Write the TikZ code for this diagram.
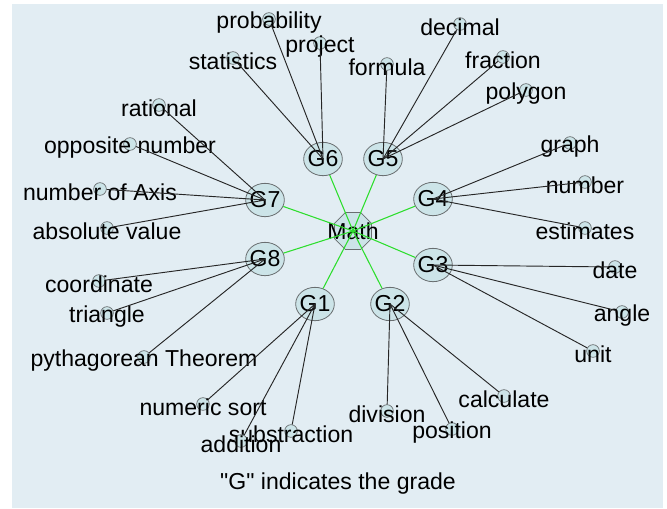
\documentclass[tikz,border=0pt]{standalone}
\usepackage{fontspec}
\setmainfont{Liberation Sans}[Ligatures=TeXOff]
\usetikzlibrary{shapes.geometric}
\definecolor{paneblue}{RGB}{226,237,243}
\definecolor{bubble}{RGB}{204,228,232}
\definecolor{rim}{RGB}{105,110,112}
\definecolor{spokegreen}{RGB}{45,222,45}
\tikzset{
	hub/.style={regular polygon, regular polygon sides=8, draw=rim, fill=bubble, minimum size=30pt, inner sep=0pt, line width=0.6pt},
	grade/.style={ellipse, draw=rim, fill=bubble, minimum width=29pt, minimum height=25pt, inner sep=0pt, line width=0.6pt},
	leaf/.style={circle, draw=rim, fill=bubble, minimum size=9.5pt, inner sep=0pt, line width=0.5pt},
	lab/.style={yshift=-2.5pt},
	spoke/.style={spokegreen, line width=0.8pt},
	twig/.style={black!85, line width=0.7pt}
}

\begin{document}
\begin{tikzpicture}[x=0.75pt, y=-0.75pt, font=\fontsize{17.3}{20}\selectfont]
			%%%%% START %%%%%
			\useasboundingbox (0, 0) rectangle (667, 508);
			\fill[white] (0, 0) rectangle (667, 508);
			\fill[paneblue] (12, 4) rectangle (663, 508);
			
			\node[hub, label=center:Math] (math) at (353, 231) {};
			
			\node[grade, label=center:G1] (g1) at (315, 304) {};
			\node[grade, label=center:G2] (g2) at (390, 304) {};
			\node[grade, label=center:G3] (g3) at (433, 265) {};
			\node[grade, label=center:G4] (g4) at (433, 199) {};
			\node[grade, label=center:G5] (g5) at (383, 159) {};
			\node[grade, label=center:G6] (g6) at (323, 159) {};
			\node[grade, label=center:G7] (g7) at (265, 200) {};
			\node[grade, label=center:G8] (g8) at (265, 259) {};
			
			% grade 1
			\node[leaf, label={[lab]center:numeric sort}] (sort) at (203, 404) {};
			\node[leaf, label={[lab]center:substraction}] (subs) at (291, 431) {};
			\node[leaf, label={[lab]center:addition}] (addi) at (241, 441) {};
			
			% grade 2
			\node[leaf, label={[lab]center:division}] (divi) at (387, 411) {};
			\node[leaf, label={[lab]center:position}] (posi) at (452, 429) {};
			\node[leaf, label={[lab]center:calculate}] (calc) at (504, 396) {};
			
			% grade 3
			\node[leaf, label={[lab]center:date}] (date) at (615, 267) {};
			\node[leaf, label={[lab]center:angle}] (angl) at (622, 312) {};
			\node[leaf, label={[lab]center:unit}] (unit) at (593, 351) {};
			
			% grade 4
			\node[leaf, label={[lab]center:graph}] (grap) at (570, 143) {};
			\node[leaf, label={[lab]center:number}] (numb) at (585, 182) {};
			\node[leaf, label={[lab]center:estimates}] (esti) at (585, 228) {};
			
			% grade 5
			\node[leaf, label={[lab]center:formula}] (form) at (387, 64) {};
			\node[leaf, label={[lab]center:decimal}] (deci) at (460, 24) {};
			\node[leaf, label={[lab]center:fraction}] (frac) at (503, 57) {};
			\node[leaf, label={[lab]center:polygon}] (poly) at (526, 90) {};
			
			% grade 6
			\node[leaf, label={[lab]center:probability}] (prob) at (269, 19) {};
			\node[leaf, label={[lab]center:project}] (proj) at (320, 43) {};
			\node[leaf, label={[lab]center:statistics}] (stat) at (233, 58) {};
			
			% grade 7
			\node[leaf, label={[lab]center:rational}] (rati) at (159, 105) {};
			\node[leaf, label={[lab]center:opposite number}] (oppo) at (130, 144) {};
			\node[leaf, label={[lab]center:number of Axis}] (axis) at (100, 189) {};
			\node[leaf, label={[lab]center:absolute value}] (abso) at (107, 228) {};
			
			% grade 8
			\node[leaf, label={[lab]center:coordinate}] (coor) at (99, 281) {};
			\node[leaf, label={[lab]center:triangle}] (tria) at (107, 313) {};
			\node[leaf, label={[lab]center:pythagorean Theorem}] (pyth) at (144, 357) {};
			
			\draw[spoke] (math.center) -- (g1);
			\draw[spoke] (math.center) -- (g2);
			\draw[spoke] (math.center) -- (g3);
			\draw[spoke] (math.center) -- (g4);
			\draw[spoke] (math.center) -- (g5);
			\draw[spoke] (math.center) -- (g6);
			\draw[spoke] (math.center) -- (g7);
			\draw[spoke] (math.center) -- (g8);
			
			\draw[twig] (g1.center) -- (sort);
			\draw[twig] (g1.center) -- (subs);
			\draw[twig] (g1.center) -- (addi);
			\draw[twig] (g2.center) -- (divi);
			\draw[twig] (g2.center) -- (posi);
			\draw[twig] (g2.center) -- (calc);
			\draw[twig] (g3.center) -- (date);
			\draw[twig] (g3.center) -- (angl);
			\draw[twig] (g3.center) -- (unit);
			\draw[twig] (g4.center) -- (grap);
			\draw[twig] (g4.center) -- (numb);
			\draw[twig] (g4.center) -- (esti);
			\draw[twig] (g5.center) -- (form);
			\draw[twig] (g5.center) -- (deci);
			\draw[twig] (g5.center) -- (frac);
			\draw[twig] (g5.center) -- (poly);
			\draw[twig] (g6.center) -- (prob);
			\draw[twig] (g6.center) -- (proj);
			\draw[twig] (g6.center) -- (stat);
			\draw[twig] (g7.center) -- (rati);
			\draw[twig] (g7.center) -- (oppo);
			\draw[twig] (g7.center) -- (axis);
			\draw[twig] (g7.center) -- (abso);
			\draw[twig] (g8.center) -- (coor);
			\draw[twig] (g8.center) -- (tria);
			\draw[twig] (g8.center) -- (pyth);
			
			\node (note) at (338, 484) {"G" indicates the grade};
			%%%%% END %%%%%
		\end{tikzpicture}
\end{document}
